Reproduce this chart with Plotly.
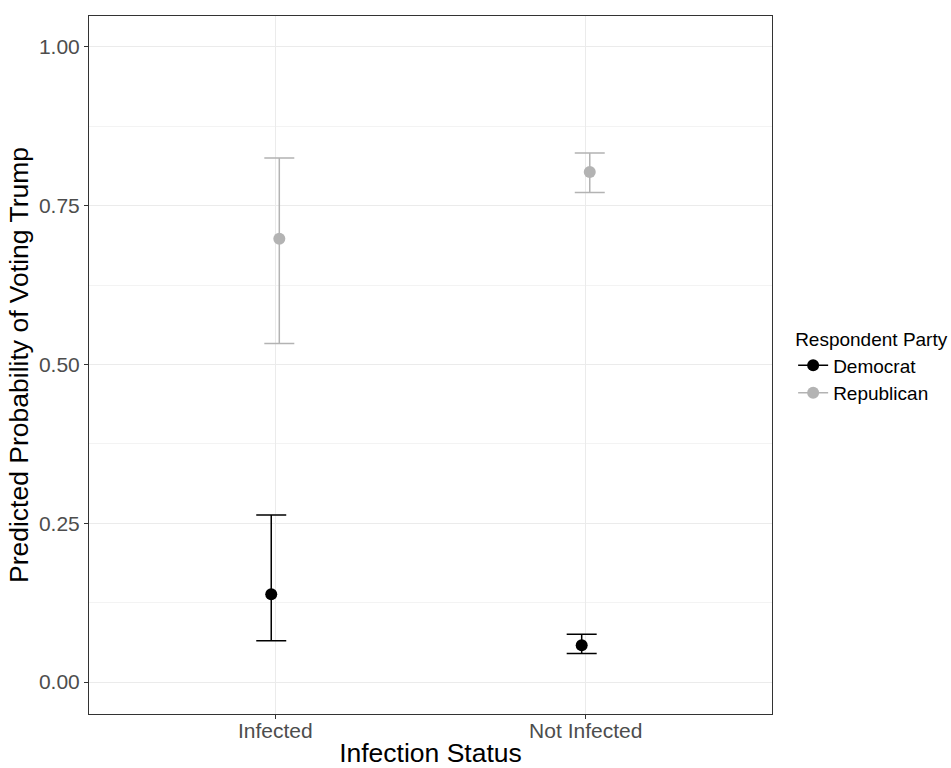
import plotly.graph_objects as go

categories = ["Infected", "Not Infected"]
parties = ["Democrat", "Republican"]
estimates = {"Democrat": [0.138, 0.058], "Republican": [0.698, 0.803]}
lower = {"Democrat": [0.065, 0.045], "Republican": [0.533, 0.771]}
upper = {"Democrat": [0.263, 0.075], "Republican": [0.825, 0.833]}
y_ticks = [0.0, 0.25, 0.5, 0.75, 1.0]
y_ticktext = ["0.00", "0.25", "0.50", "0.75", "1.00"]

colors = {"Democrat": "#000000", "Republican": "#B3B3B3"}
dodge = {"Democrat": -0.013, "Republican": 0.013}
FONT = "Liberation Sans, Arial, sans-serif"

fig = go.Figure()
base_x = list(range(1, len(categories) + 1))
for p in parties:
    xs = [b + dodge[p] for b in base_x]
    est = estimates[p]
    fig.add_trace(go.Scatter(
        x=xs, y=est, mode="markers", showlegend=False,
        marker=dict(color=colors[p], size=12),
        error_y=dict(type="data", symmetric=False,
                     array=[u - e for u, e in zip(upper[p], est)],
                     arrayminus=[e - l for e, l in zip(est, lower[p])],
                     color=colors[p], thickness=1.5, width=15),
        hoverinfo="skip",
    ))
for p in parties:
    fig.add_trace(go.Scatter(
        x=[None], y=[None], mode="lines+markers", name=p,
        marker=dict(color=colors[p], size=12),
        line=dict(color=colors[p], width=1.5),
    ))

fig.update_layout(
    width=951, height=768,
    margin=dict(l=89, r=179, t=16, b=54, autoexpand=False),
    plot_bgcolor="white", paper_bgcolor="white",
    font=dict(family=FONT, color="#000000"),
    legend=dict(
        title=dict(text="Respondent Party", font=dict(size=19, family=FONT, color="#000")),
        font=dict(size=19, family=FONT, color="#000"),
        xref="container", x=0.834, xanchor="left", y=0.497, yanchor="middle",
        itemwidth=30, tracegroupgap=0,
    ),
    xaxis=dict(
        range=[0.4, 2.6], tickvals=base_x, ticktext=categories, automargin=True,
        showgrid=True, gridcolor="#EBEBEB", gridwidth=1, zeroline=False,
        showline=True, linecolor="#333333", linewidth=1, mirror=True,
        ticks="outside", ticklen=4, tickcolor="#333333",
        ticklabelstandoff=-6,
        tickfont=dict(size=21, color="#4D4D4D", family=FONT),
        title=dict(text="Infection Status", font=dict(size=26.5, color="#000", family=FONT), standoff=3),
    ),
    yaxis=dict(
        range=[-0.0504, 1.0488], tickvals=y_ticks, ticktext=y_ticktext, automargin=False,
        showgrid=True, gridcolor="#EBEBEB", gridwidth=1, zeroline=False,
        minor=dict(tickvals=[0.125, 0.375, 0.625, 0.875], showgrid=True,
                   gridcolor="#F3F3F3", gridwidth=1, ticks=""),
        showline=True, linecolor="#333333", linewidth=1, mirror=True,
        ticks="outside", ticklen=4, tickcolor="#333333",
        tickfont=dict(size=21, color="#4D4D4D", family=FONT),
        title=dict(text="Predicted Probability of Voting Trump", font=dict(size=26.5, color="#000", family=FONT), standoff=2),
    ),
)

fig.write_html("out.html", config={"displayModeBar": False},
               post_script="document.body.style.margin='0';")
